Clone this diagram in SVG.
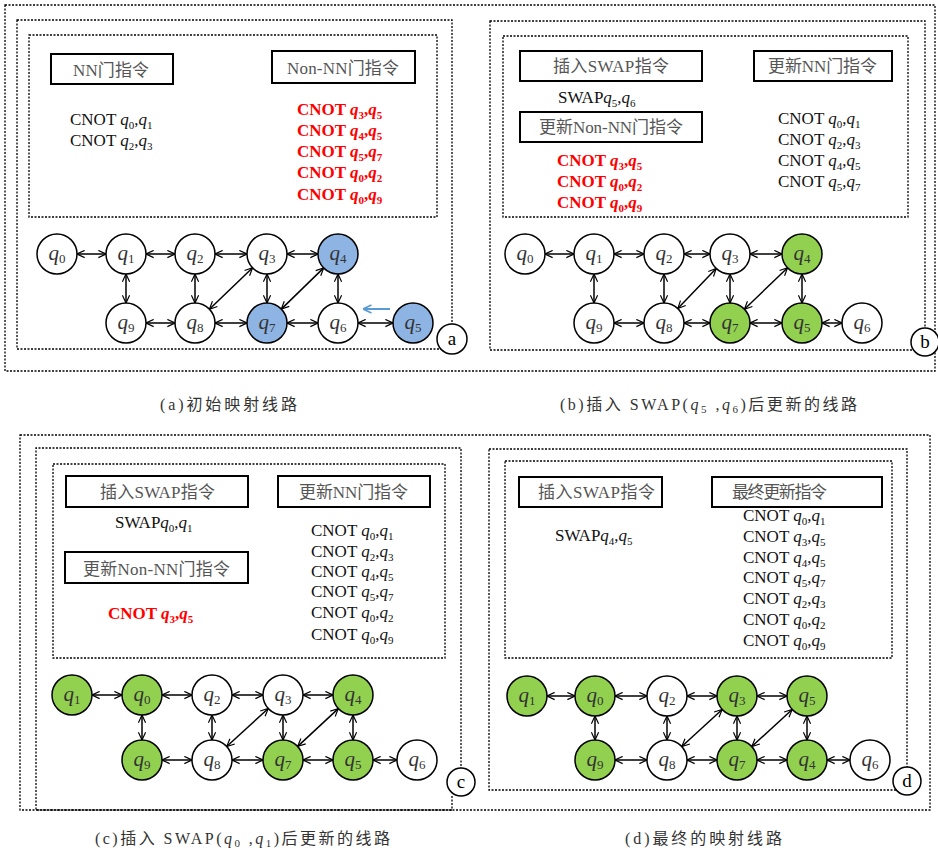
<svg xmlns="http://www.w3.org/2000/svg" width="938" height="848" viewBox="0 0 938 848">
<defs>
<style>
.frame{fill:none;stroke:#000;stroke-width:1.3;stroke-dasharray:2 1.5}
.box{fill:#fff;stroke:#000;stroke-width:2}
.lbl{font-family:"Liberation Serif","Noto Sans CJK SC",serif;font-size:17px;fill:#555}
.ins{font-family:"Liberation Serif",serif;font-size:17px;fill:#111}
.red{font-weight:bold;fill:#f00}
.i{font-style:italic}
.s{font-size:11px;font-style:normal}
.node circle{stroke:#000;stroke-width:1.5;fill:#fff}
.node circle.b{fill:#8EB4E3}
.node circle.g{fill:#92D050}
.nt{font-family:"Liberation Serif",serif;font-size:21px;font-style:italic;text-anchor:middle;fill:#333}
.ns{font-size:13px;font-style:normal}
.edges line{stroke:#000;stroke-width:1.5;marker-start:url(#ah);marker-end:url(#ah)}
.tag circle{fill:#fff;stroke:#000;stroke-width:1.5}
.tag text{font-family:"Liberation Serif",serif;font-size:19px;text-anchor:middle;fill:#000}
.cap{font-family:"Liberation Serif","Noto Sans CJK SC",serif;font-size:16px;fill:#333}
</style>
<marker id="ah" viewBox="0 0 10 10" refX="9.5" refY="5" markerWidth="9" markerHeight="9" markerUnits="userSpaceOnUse" orient="auto-start-reverse"><path d="M1,1 L9.5,5 L1,9" fill="none" stroke="#000" stroke-width="1.3"/></marker>
<marker id="bh" viewBox="0 0 10 10" refX="9.5" refY="5" markerWidth="10" markerHeight="10" markerUnits="userSpaceOnUse" orient="auto"><path d="M1,1 L9.5,5 L1,9" fill="none" stroke="#5B9BD5" stroke-width="1.6"/></marker>
</defs>
<rect width="938" height="848" fill="#fff"/>

<!-- frames -->
<g id="frames">
<rect class="frame" x="5" y="5" width="930" height="366"/>
<rect class="frame" x="17" y="20" width="435" height="329"/>
<rect class="frame" x="29" y="35" width="408" height="182"/>
<rect class="frame" x="490" y="21" width="435" height="329"/>
<rect class="frame" x="503" y="36" width="405" height="181"/>
<rect class="frame" x="20" y="435" width="910" height="375"/>
<path class="frame" d="M452,796 V810 H36 V448 H461 V775"/>
<rect class="frame" x="53" y="464" width="392" height="194"/>
<rect class="frame" x="489" y="449" width="418" height="341"/>
<rect class="frame" x="505" y="461" width="387" height="197"/>
</g>

<!-- panel a texts -->
<g id="a-box-nn"><rect class="box" x="51" y="54" width="122" height="30"/><text class="lbl" x="73" y="76" textLength="76" lengthAdjust="spacing">NN门指令</text></g>
<g id="a-box-nonnn"><rect class="box" x="272" y="51" width="143" height="32"/><text class="lbl" x="287" y="74" textLength="112" lengthAdjust="spacing">Non-NN门指令</text></g>
<g id="a-ins">
<text class="ins" x="70" y="125">CNOT <tspan class="i">q</tspan><tspan class="s" dy="4">0</tspan><tspan dy="-4">,</tspan><tspan class="i">q</tspan><tspan class="s" dy="4">1</tspan></text>
<text class="ins" x="70" y="146">CNOT <tspan class="i">q</tspan><tspan class="s" dy="4">2</tspan><tspan dy="-4">,</tspan><tspan class="i">q</tspan><tspan class="s" dy="4">3</tspan></text>
<text class="ins red" x="297" y="115">CNOT <tspan class="i">q</tspan><tspan class="s" dy="4">3</tspan><tspan dy="-4">,</tspan><tspan class="i">q</tspan><tspan class="s" dy="4">5</tspan></text>
<text class="ins red" x="297" y="136">CNOT <tspan class="i">q</tspan><tspan class="s" dy="4">4</tspan><tspan dy="-4">,</tspan><tspan class="i">q</tspan><tspan class="s" dy="4">5</tspan></text>
<text class="ins red" x="297" y="157">CNOT <tspan class="i">q</tspan><tspan class="s" dy="4">5</tspan><tspan dy="-4">,</tspan><tspan class="i">q</tspan><tspan class="s" dy="4">7</tspan></text>
<text class="ins red" x="297" y="178">CNOT <tspan class="i">q</tspan><tspan class="s" dy="4">0</tspan><tspan dy="-4">,</tspan><tspan class="i">q</tspan><tspan class="s" dy="4">2</tspan></text>
<text class="ins red" x="297" y="200">CNOT <tspan class="i">q</tspan><tspan class="s" dy="4">0</tspan><tspan dy="-4">,</tspan><tspan class="i">q</tspan><tspan class="s" dy="4">9</tspan></text>
</g>

<!-- panel b texts -->
<g id="b-box-swap"><rect class="box" x="520" y="51" width="182" height="30"/><text class="lbl" x="553" y="72" textLength="116" lengthAdjust="spacing">插入SWAP指令</text></g>
<g id="b-box-nn"><rect class="box" x="754" y="51" width="138" height="30"/><text class="lbl" x="768" y="72" textLength="109" lengthAdjust="spacing">更新NN门指令</text></g>
<g id="b-box-nonnn"><rect class="box" x="520" y="112" width="182" height="30"/><text class="lbl" x="539" y="133" textLength="144" lengthAdjust="spacing">更新Non-NN门指令</text></g>
<g id="b-ins">
<text class="ins" x="558" y="103">SWAP<tspan class="i">q</tspan><tspan class="s" dy="4">5</tspan><tspan dy="-4">,</tspan><tspan class="i">q</tspan><tspan class="s" dy="4">6</tspan></text>
<text class="ins red" x="557" y="166">CNOT <tspan class="i">q</tspan><tspan class="s" dy="4">3</tspan><tspan dy="-4">,</tspan><tspan class="i">q</tspan><tspan class="s" dy="4">5</tspan></text>
<text class="ins red" x="557" y="187">CNOT <tspan class="i">q</tspan><tspan class="s" dy="4">0</tspan><tspan dy="-4">,</tspan><tspan class="i">q</tspan><tspan class="s" dy="4">2</tspan></text>
<text class="ins red" x="557" y="208">CNOT <tspan class="i">q</tspan><tspan class="s" dy="4">0</tspan><tspan dy="-4">,</tspan><tspan class="i">q</tspan><tspan class="s" dy="4">9</tspan></text>
<text class="ins" x="778" y="124">CNOT <tspan class="i">q</tspan><tspan class="s" dy="4">0</tspan><tspan dy="-4">,</tspan><tspan class="i">q</tspan><tspan class="s" dy="4">1</tspan></text>
<text class="ins" x="778" y="145">CNOT <tspan class="i">q</tspan><tspan class="s" dy="4">2</tspan><tspan dy="-4">,</tspan><tspan class="i">q</tspan><tspan class="s" dy="4">3</tspan></text>
<text class="ins" x="778" y="166">CNOT <tspan class="i">q</tspan><tspan class="s" dy="4">4</tspan><tspan dy="-4">,</tspan><tspan class="i">q</tspan><tspan class="s" dy="4">5</tspan></text>
<text class="ins" x="778" y="187">CNOT <tspan class="i">q</tspan><tspan class="s" dy="4">5</tspan><tspan dy="-4">,</tspan><tspan class="i">q</tspan><tspan class="s" dy="4">7</tspan></text>
</g>

<!-- panel c texts -->
<g id="c-box-swap"><rect class="box" x="66" y="476" width="182" height="31"/><text class="lbl" x="100" y="498" textLength="115" lengthAdjust="spacing">插入SWAP指令</text></g>
<g id="c-box-nn"><rect class="box" x="278" y="476" width="152" height="31"/><text class="lbl" x="299" y="498" textLength="109" lengthAdjust="spacing">更新NN门指令</text></g>
<g id="c-box-nonnn"><rect class="box" x="65" y="552" width="183" height="31"/><text class="lbl" x="83" y="575" textLength="147" lengthAdjust="spacing">更新Non-NN门指令</text></g>
<g id="c-ins">
<text class="ins" x="115" y="528">SWAP<tspan class="i">q</tspan><tspan class="s" dy="4">0</tspan><tspan dy="-4">,</tspan><tspan class="i">q</tspan><tspan class="s" dy="4">1</tspan></text>
<text class="ins red" x="108" y="619">CNOT <tspan class="i">q</tspan><tspan class="s" dy="4">3</tspan><tspan dy="-4">,</tspan><tspan class="i">q</tspan><tspan class="s" dy="4">5</tspan></text>
<text class="ins" x="311" y="536">CNOT <tspan class="i">q</tspan><tspan class="s" dy="4">0</tspan><tspan dy="-4">,</tspan><tspan class="i">q</tspan><tspan class="s" dy="4">1</tspan></text>
<text class="ins" x="311" y="557">CNOT <tspan class="i">q</tspan><tspan class="s" dy="4">2</tspan><tspan dy="-4">,</tspan><tspan class="i">q</tspan><tspan class="s" dy="4">3</tspan></text>
<text class="ins" x="311" y="577">CNOT <tspan class="i">q</tspan><tspan class="s" dy="4">4</tspan><tspan dy="-4">,</tspan><tspan class="i">q</tspan><tspan class="s" dy="4">5</tspan></text>
<text class="ins" x="311" y="597">CNOT <tspan class="i">q</tspan><tspan class="s" dy="4">5</tspan><tspan dy="-4">,</tspan><tspan class="i">q</tspan><tspan class="s" dy="4">7</tspan></text>
<text class="ins" x="311" y="618">CNOT <tspan class="i">q</tspan><tspan class="s" dy="4">0</tspan><tspan dy="-4">,</tspan><tspan class="i">q</tspan><tspan class="s" dy="4">2</tspan></text>
<text class="ins" x="311" y="640">CNOT <tspan class="i">q</tspan><tspan class="s" dy="4">0</tspan><tspan dy="-4">,</tspan><tspan class="i">q</tspan><tspan class="s" dy="4">9</tspan></text>
</g>

<!-- panel d texts -->
<g id="d-box-swap"><rect class="box" x="519" y="477" width="143" height="30"/><text class="lbl" x="538" y="498" textLength="117" lengthAdjust="spacing">插入SWAP指令</text></g>
<g id="d-box-final"><rect class="box" x="712" y="477" width="170" height="30"/><text class="lbl" x="732" y="498" textLength="95" lengthAdjust="spacing">最终更新指令</text></g>
<g id="d-ins">
<text class="ins" x="555" y="541">SWAP<tspan class="i">q</tspan><tspan class="s" dy="4">4</tspan><tspan dy="-4">,</tspan><tspan class="i">q</tspan><tspan class="s" dy="4">5</tspan></text>
<text class="ins" x="743" y="521">CNOT <tspan class="i">q</tspan><tspan class="s" dy="4">0</tspan><tspan dy="-4">,</tspan><tspan class="i">q</tspan><tspan class="s" dy="4">1</tspan></text>
<text class="ins" x="743" y="542">CNOT <tspan class="i">q</tspan><tspan class="s" dy="4">3</tspan><tspan dy="-4">,</tspan><tspan class="i">q</tspan><tspan class="s" dy="4">5</tspan></text>
<text class="ins" x="743" y="563">CNOT <tspan class="i">q</tspan><tspan class="s" dy="4">4</tspan><tspan dy="-4">,</tspan><tspan class="i">q</tspan><tspan class="s" dy="4">5</tspan></text>
<text class="ins" x="743" y="583">CNOT <tspan class="i">q</tspan><tspan class="s" dy="4">5</tspan><tspan dy="-4">,</tspan><tspan class="i">q</tspan><tspan class="s" dy="4">7</tspan></text>
<text class="ins" x="743" y="604">CNOT <tspan class="i">q</tspan><tspan class="s" dy="4">2</tspan><tspan dy="-4">,</tspan><tspan class="i">q</tspan><tspan class="s" dy="4">3</tspan></text>
<text class="ins" x="743" y="625">CNOT <tspan class="i">q</tspan><tspan class="s" dy="4">0</tspan><tspan dy="-4">,</tspan><tspan class="i">q</tspan><tspan class="s" dy="4">2</tspan></text>
<text class="ins" x="743" y="646">CNOT <tspan class="i">q</tspan><tspan class="s" dy="4">0</tspan><tspan dy="-4">,</tspan><tspan class="i">q</tspan><tspan class="s" dy="4">9</tspan></text>
</g>

<!-- connectors -->
<g id="connectors" class="edges">
<!-- a -->
<line x1="77" y1="254" x2="106" y2="254"/>
<line x1="146" y1="254" x2="175" y2="254"/>
<line x1="215" y1="254" x2="247" y2="254"/>
<line x1="287" y1="254" x2="318" y2="254"/>
<line x1="126" y1="274" x2="126" y2="303"/>
<line x1="195" y1="274" x2="195" y2="303"/>
<line x1="267" y1="274" x2="267" y2="303"/>
<line x1="338" y1="274" x2="338" y2="303"/>
<line x1="146" y1="323" x2="175" y2="323"/>
<line x1="215" y1="323" x2="247" y2="323"/>
<line x1="287" y1="323" x2="318" y2="323"/>
<line x1="358" y1="323" x2="393" y2="323"/>
<line x1="209.4" y1="309.2" x2="252.6" y2="267.8"/>
<line x1="281.3" y1="309.1" x2="323.7" y2="267.9"/>
<!-- b -->
<line x1="545" y1="254" x2="574" y2="254"/>
<line x1="614" y1="254" x2="644" y2="254"/>
<line x1="684" y1="254" x2="710" y2="254"/>
<line x1="750" y1="254" x2="782" y2="254"/>
<line x1="594" y1="274" x2="594" y2="303"/>
<line x1="664" y1="274" x2="664" y2="303"/>
<line x1="730" y1="274" x2="730" y2="303"/>
<line x1="802" y1="274" x2="802" y2="303"/>
<line x1="614" y1="323" x2="644" y2="323"/>
<line x1="684" y1="323" x2="710" y2="323"/>
<line x1="750" y1="323" x2="782" y2="323"/>
<line x1="822" y1="323" x2="842" y2="323"/>
<line x1="677.8" y1="308.6" x2="716.2" y2="268.5"/>
<line x1="744.4" y1="309.2" x2="787.6" y2="267.8"/>
<!-- c -->
<line x1="92" y1="695" x2="122" y2="695"/>
<line x1="162" y1="695" x2="192" y2="695"/>
<line x1="232" y1="695" x2="263" y2="695"/>
<line x1="303" y1="695" x2="333" y2="695"/>
<line x1="142" y1="715" x2="142" y2="740"/>
<line x1="212" y1="715" x2="212" y2="740"/>
<line x1="283" y1="715" x2="283" y2="740"/>
<line x1="353" y1="715" x2="353" y2="740"/>
<line x1="162" y1="760" x2="192" y2="760"/>
<line x1="232" y1="760" x2="263" y2="760"/>
<line x1="303" y1="760" x2="333" y2="760"/>
<line x1="373" y1="760" x2="397" y2="760"/>
<line x1="226.7" y1="746.5" x2="268.3" y2="708.5"/>
<line x1="297.7" y1="746.4" x2="338.3" y2="708.6"/>
<!-- d -->
<line x1="547" y1="696" x2="575" y2="696"/>
<line x1="615" y1="696" x2="647" y2="696"/>
<line x1="687" y1="696" x2="717" y2="696"/>
<line x1="757" y1="696" x2="787" y2="696"/>
<line x1="595" y1="716" x2="595" y2="740"/>
<line x1="667" y1="716" x2="667" y2="740"/>
<line x1="737" y1="716" x2="737" y2="740"/>
<line x1="807" y1="716" x2="807" y2="740"/>
<line x1="615" y1="760" x2="647" y2="760"/>
<line x1="687" y1="760" x2="717" y2="760"/>
<line x1="757" y1="760" x2="787" y2="760"/>
<line x1="827" y1="760" x2="850" y2="760"/>
<line x1="681.8" y1="746.5" x2="722.2" y2="709.5"/>
<line x1="751.8" y1="746.5" x2="792.2" y2="709.5"/>
</g>
<line id="blue-arrow" x1="390" y1="309" x2="363" y2="309" stroke="#5B9BD5" stroke-width="2" marker-end="url(#bh)"/>

<!-- nodes panel a -->
<g id="a-q0" class="node"><circle cx="57" cy="254" r="20"/><text class="nt" x="57" y="260">q<tspan class="ns" dy="3">0</tspan></text></g>
<g id="a-q1" class="node"><circle cx="126" cy="254" r="20"/><text class="nt" x="126" y="260">q<tspan class="ns" dy="3">1</tspan></text></g>
<g id="a-q2" class="node"><circle cx="195" cy="254" r="20"/><text class="nt" x="195" y="260">q<tspan class="ns" dy="3">2</tspan></text></g>
<g id="a-q3" class="node"><circle cx="267" cy="254" r="20"/><text class="nt" x="267" y="260">q<tspan class="ns" dy="3">3</tspan></text></g>
<g id="a-q4" class="node"><circle class="b" cx="338" cy="254" r="20"/><text class="nt" x="338" y="260">q<tspan class="ns" dy="3">4</tspan></text></g>
<g id="a-q9" class="node"><circle cx="126" cy="323" r="20"/><text class="nt" x="126" y="329">q<tspan class="ns" dy="3">9</tspan></text></g>
<g id="a-q8" class="node"><circle cx="195" cy="323" r="20"/><text class="nt" x="195" y="329">q<tspan class="ns" dy="3">8</tspan></text></g>
<g id="a-q7" class="node"><circle class="b" cx="267" cy="323" r="20"/><text class="nt" x="267" y="329">q<tspan class="ns" dy="3">7</tspan></text></g>
<g id="a-q6" class="node"><circle cx="338" cy="323" r="20"/><text class="nt" x="338" y="329">q<tspan class="ns" dy="3">6</tspan></text></g>
<g id="a-q5" class="node"><circle class="b" cx="413" cy="323" r="20"/><text class="nt" x="413" y="329">q<tspan class="ns" dy="3">5</tspan></text></g>

<!-- nodes panel b -->
<g id="b-q0" class="node"><circle cx="525" cy="254" r="20"/><text class="nt" x="525" y="260">q<tspan class="ns" dy="3">0</tspan></text></g>
<g id="b-q1" class="node"><circle cx="594" cy="254" r="20"/><text class="nt" x="594" y="260">q<tspan class="ns" dy="3">1</tspan></text></g>
<g id="b-q2" class="node"><circle cx="664" cy="254" r="20"/><text class="nt" x="664" y="260">q<tspan class="ns" dy="3">2</tspan></text></g>
<g id="b-q3" class="node"><circle cx="730" cy="254" r="20"/><text class="nt" x="730" y="260">q<tspan class="ns" dy="3">3</tspan></text></g>
<g id="b-q4" class="node"><circle class="g" cx="802" cy="254" r="20"/><text class="nt" x="802" y="260">q<tspan class="ns" dy="3">4</tspan></text></g>
<g id="b-q9" class="node"><circle cx="594" cy="323" r="20"/><text class="nt" x="594" y="329">q<tspan class="ns" dy="3">9</tspan></text></g>
<g id="b-q8" class="node"><circle cx="664" cy="323" r="20"/><text class="nt" x="664" y="329">q<tspan class="ns" dy="3">8</tspan></text></g>
<g id="b-q7" class="node"><circle class="g" cx="730" cy="323" r="20"/><text class="nt" x="730" y="329">q<tspan class="ns" dy="3">7</tspan></text></g>
<g id="b-q5" class="node"><circle class="g" cx="802" cy="323" r="20"/><text class="nt" x="802" y="329">q<tspan class="ns" dy="3">5</tspan></text></g>
<g id="b-q6" class="node"><circle cx="862" cy="323" r="20"/><text class="nt" x="862" y="329">q<tspan class="ns" dy="3">6</tspan></text></g>

<!-- nodes panel c -->
<g id="c-q1" class="node"><circle class="g" cx="72" cy="695" r="20"/><text class="nt" x="72" y="701">q<tspan class="ns" dy="3">1</tspan></text></g>
<g id="c-q0" class="node"><circle class="g" cx="142" cy="695" r="20"/><text class="nt" x="142" y="701">q<tspan class="ns" dy="3">0</tspan></text></g>
<g id="c-q2" class="node"><circle cx="212" cy="695" r="20"/><text class="nt" x="212" y="701">q<tspan class="ns" dy="3">2</tspan></text></g>
<g id="c-q3" class="node"><circle cx="283" cy="695" r="20"/><text class="nt" x="283" y="701">q<tspan class="ns" dy="3">3</tspan></text></g>
<g id="c-q4" class="node"><circle class="g" cx="353" cy="695" r="20"/><text class="nt" x="353" y="701">q<tspan class="ns" dy="3">4</tspan></text></g>
<g id="c-q9" class="node"><circle class="g" cx="142" cy="760" r="20"/><text class="nt" x="142" y="766">q<tspan class="ns" dy="3">9</tspan></text></g>
<g id="c-q8" class="node"><circle cx="212" cy="760" r="20"/><text class="nt" x="212" y="766">q<tspan class="ns" dy="3">8</tspan></text></g>
<g id="c-q7" class="node"><circle class="g" cx="283" cy="760" r="20"/><text class="nt" x="283" y="766">q<tspan class="ns" dy="3">7</tspan></text></g>
<g id="c-q5" class="node"><circle class="g" cx="353" cy="760" r="20"/><text class="nt" x="353" y="766">q<tspan class="ns" dy="3">5</tspan></text></g>
<g id="c-q6" class="node"><circle cx="417" cy="760" r="20"/><text class="nt" x="417" y="766">q<tspan class="ns" dy="3">6</tspan></text></g>

<!-- nodes panel d -->
<g id="d-q1" class="node"><circle class="g" cx="527" cy="696" r="20"/><text class="nt" x="527" y="702">q<tspan class="ns" dy="3">1</tspan></text></g>
<g id="d-q0" class="node"><circle class="g" cx="595" cy="696" r="20"/><text class="nt" x="595" y="702">q<tspan class="ns" dy="3">0</tspan></text></g>
<g id="d-q2" class="node"><circle cx="667" cy="696" r="20"/><text class="nt" x="667" y="702">q<tspan class="ns" dy="3">2</tspan></text></g>
<g id="d-q3" class="node"><circle class="g" cx="737" cy="696" r="20"/><text class="nt" x="737" y="702">q<tspan class="ns" dy="3">3</tspan></text></g>
<g id="d-q5" class="node"><circle class="g" cx="807" cy="696" r="20"/><text class="nt" x="807" y="702">q<tspan class="ns" dy="3">5</tspan></text></g>
<g id="d-q9" class="node"><circle class="g" cx="595" cy="760" r="20"/><text class="nt" x="595" y="766">q<tspan class="ns" dy="3">9</tspan></text></g>
<g id="d-q8" class="node"><circle cx="667" cy="760" r="20"/><text class="nt" x="667" y="766">q<tspan class="ns" dy="3">8</tspan></text></g>
<g id="d-q7" class="node"><circle class="g" cx="737" cy="760" r="20"/><text class="nt" x="737" y="766">q<tspan class="ns" dy="3">7</tspan></text></g>
<g id="d-q4" class="node"><circle class="g" cx="807" cy="760" r="20"/><text class="nt" x="807" y="766">q<tspan class="ns" dy="3">4</tspan></text></g>
<g id="d-q6" class="node"><circle cx="870" cy="760" r="20"/><text class="nt" x="870" y="766">q<tspan class="ns" dy="3">6</tspan></text></g>

<!-- panel tags -->
<g id="tag-a" class="tag"><circle cx="452" cy="339" r="15"/><text x="452" y="345">a</text></g>
<g id="tag-b" class="tag"><circle cx="925" cy="342" r="14"/><text x="925" y="348">b</text></g>
<g id="tag-c" class="tag"><circle cx="461" cy="782" r="14"/><text x="461" y="788">c</text></g>
<g id="tag-d" class="tag"><circle cx="907" cy="781" r="14"/><text x="907" y="787">d</text></g>

<!-- captions -->
<g id="captions">
<text class="cap" x="160" y="410" textLength="137" lengthAdjust="spacing">(a)初始映射线路</text>
<text class="cap" x="560" y="410" textLength="297" lengthAdjust="spacing">(b)插入 SWAP(<tspan class="i">q</tspan><tspan class="s" dy="3">5</tspan><tspan dy="-3"> ,</tspan><tspan class="i">q</tspan><tspan class="s" dy="3">6</tspan><tspan dy="-3">)后更新的线路</tspan></text>
<text class="cap" x="95" y="844" textLength="295" lengthAdjust="spacing">(c)插入 SWAP(<tspan class="i">q</tspan><tspan class="s" dy="3">0</tspan><tspan dy="-3"> ,</tspan><tspan class="i">q</tspan><tspan class="s" dy="3">1</tspan><tspan dy="-3">)后更新的线路</tspan></text>
<text class="cap" x="625" y="844" textLength="157" lengthAdjust="spacing">(d)最终的映射线路</text>
</g>
</svg>
